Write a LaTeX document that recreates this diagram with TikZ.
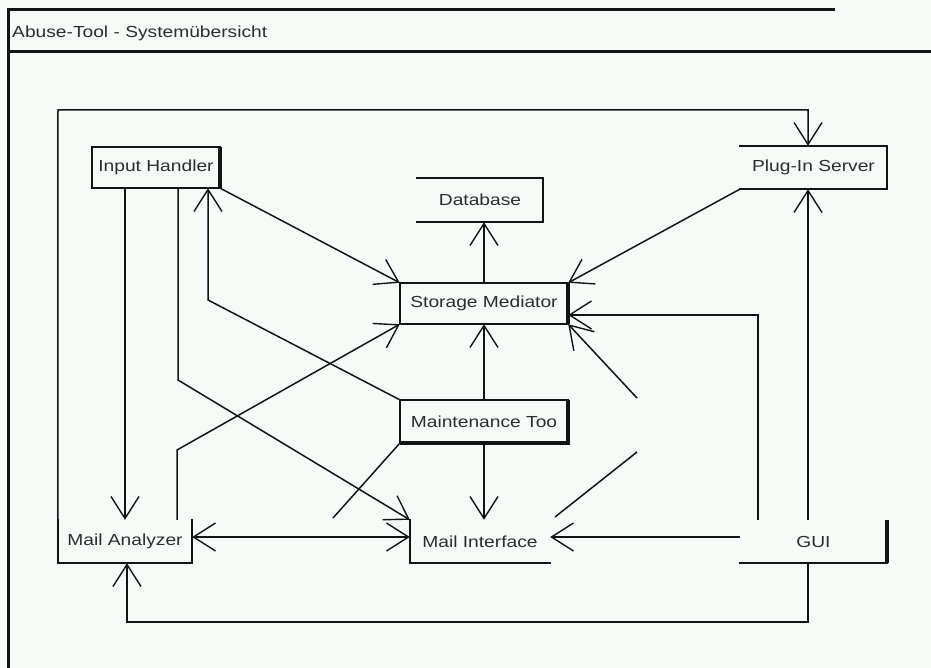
\documentclass[tikz,border=0pt]{standalone}
\usepackage{fontspec}
\newfontfamily\lab[FakeStretch=1.2]{Liberation Sans}
\usetikzlibrary{arrows.meta,calc}
\definecolor{bgc}{RGB}{247,251,247}
\definecolor{ink}{RGB}{20,20,20}
\definecolor{txt}{RGB}{45,45,45}
\begin{document}
\begin{tikzpicture}[x=1pt,y=-1pt,
  comp/.style={draw=none,inner sep=0pt,minimum height=43pt,text=txt,font=\lab\fontsize{16}{19}\selectfont},
  edge/.style={draw=ink,line width=1.5pt},
  arr/.style={edge,-{Straight Barb[length=22pt,width=28pt,line width=1.4pt]}},
  side/.style={draw=ink,line width=1.8pt,line cap=rect},
  heavy/.style={draw=ink,line width=4pt},
  frame/.style={draw=ink,line width=3pt}]
\fill[bgc] (0,0) rectangle (931,668);
\useasboundingbox (0,0) rectangle (931,668);
% outer frame and title
\draw[frame] (8,668) -- (8,10) -- (835,10);
\draw[frame] (8,52) -- (931,52);
\node[anchor=west,text=txt,font=\lab\fontsize{16}{19}\selectfont,inner sep=0pt] (title) at (12,33) {Abuse-Tool - Systemübersicht};
% components
\node[comp,minimum width=128pt,minimum height=41pt] (IH) at (156,167.5) {Input Handler};
\node[comp,minimum width=126pt,minimum height=44pt] (DB) at (480,200) {Database};
\node[comp,minimum width=168pt,minimum height=41pt] (SM) at (484,303.5) {Storage Mediator};
\node[comp,minimum width=147pt] (PS) at (813.5,167.5) {Plug-In Server};
\node[comp,minimum width=168pt] (MT) at (484,421.5) {Maintenance Too};
\node[comp,minimum width=134pt] (MA) at (125,541.5) {Mail Analyzer};
\node[comp,minimum width=140pt] (MI) at (480,541.5) {Mail Interface};
\node[comp,minimum width=147pt] (GUI) at (813.5,541.5) {GUI};
% visible box sides
\draw[side] (IH.north east) -- (IH.north west) -- (IH.south west) -- (IH.south east);
\draw[heavy] (IH.north east) -- (IH.south east);
\draw[side] (DB.north west) -- (DB.north east) -- (DB.south east) -- (DB.south west);
\draw[side] (SM.north east) -- (SM.north west) -- (SM.south west) -- (SM.south east);
\draw[heavy] (SM.north east) -- (SM.south east);
\draw[side] (PS.north west) -- (PS.north east) -- (PS.south east) -- (PS.south west);
\draw[side] (MT.north east) -- (MT.north west) -- (MT.south west);
\draw[heavy] (MT.north east) -- (MT.south east) -- (MT.south west);
\draw[side] (MA.north east) -- (MA.south east) -- (MA.south west) -- (MA.north west);
\draw[side] (MI.north west) -- (MI.south west) -- (MI.south east);
\draw[side] (GUI.south west) -- (GUI.south east);
\draw[heavy] (GUI.south east) -- (GUI.north east);
% bend points and free ends
\coordinate (vx) at (808,0);
\coordinate (b4) at (208,300);
\coordinate (b2) at (178,380);
\coordinate (b10) at (177,450);
\coordinate (top) at (58,110);
\coordinate (bot) at (0,622);
\coordinate (f9) at (333,518);
\coordinate (f17) at (637,398);
\coordinate (f18) at (637,452);
\coordinate (f18e) at (555,517);
% connectors
\draw[arr] (MA.north |- IH.south) -- (MA.north);
\draw[arr] ([xshift=22pt]IH.south) -- (b2) -- (MI.north west);
\draw[arr] (IH.south east) -- (SM.north west);
\draw[arr] (MT.north west) -- (b4) -- (b4 |- IH.south);
\draw[arr] (SM.north) -- (SM.north |- DB.south);
\draw[arr] (PS.south west) -- (SM.north east);
\draw[arr] (MT.north) -- (SM.south);
\draw[arr] (MT.south) -- (MT.south |- MI.north);
\draw[edge] (MT.south west) -- (f9);
\draw[arr] ([xshift=52pt]MA.north) -- (b10) -- (SM.south west);
\draw[edge,{Straight Barb[length=22pt,width=28pt,line width=1.4pt]}-{Straight Barb[length=22pt,width=28pt,line width=1.4pt]}] ([yshift=4.5pt]MA.east) -- ([yshift=4.5pt]MI.west);
\draw[arr] ([yshift=4.5pt]GUI.west) -- ([yshift=4.5pt]MI.east);
\draw[arr] (GUI.north -| vx) -- (PS.south -| vx);
\draw[arr] ([xshift=-55.5pt]GUI.north) |- ([yshift=-11.5pt]SM.east);
\draw[arr] (GUI.south -| vx) -- (vx |- bot) -| ([xshift=2pt]MA.south);
\draw[arr] (MA.north west) -- (top) -| (PS.north -| vx);
\draw[arr] (f17) -- (SM.south east);
\draw[edge] (f18) -- (f18e);
\end{tikzpicture}
\end{document}
